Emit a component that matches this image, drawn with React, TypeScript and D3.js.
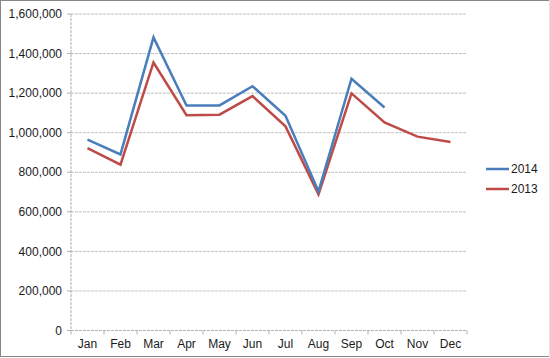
import React from "react";
import * as d3 from "d3";

const months = ["Jan", "Feb", "Mar", "Apr", "May", "Jun", "Jul", "Aug", "Sep", "Oct", "Nov", "Dec"];
const values2014: (number | null)[] = [965000, 890000, 1482000, 1137000, 1138000, 1235000, 1085000, 703000, 1273000, 1127000, null, null];
const values2013: (number | null)[] = [922000, 838000, 1355000, 1088000, 1091000, 1185000, 1032000, 688000, 1199000, 1052000, 980000, 953000];
const yTicks = [0, 200000, 400000, 600000, 800000, 1000000, 1200000, 1400000, 1600000];
const seriesNames = ["2014", "2013"];
const seriesColors = ["#4a7ebb", "#be4b48"];

const W = 550, H = 358;
const left = 71, right = 467, top = 14, bottom = 330.5;

export default function App() {
  const x = d3.scaleBand<string>().domain(months).range([left, right]);
  const y = d3.scaleLinear().domain([0, 1600000]).range([bottom, top]);
  const fmt = d3.format(",");
  const line = d3
    .line<number | null>()
    .defined((d) => d != null)
    .x((_, i) => (x(months[i]) as number) + x.bandwidth() / 2)
    .y((d) => y(d as number));
  const series = [values2014, values2013];
  const font = "'Liberation Sans', Arial, sans-serif";
  return (
    <svg width={W} height={H} style={{ position: "absolute", left: 0, top: 0, background: "#fff" }} fontFamily={font}>
      <rect x={0} y={0} width={W} height={H} fill="#fff" />
      <line x1={0} x2={W} y1={0.5} y2={0.5} stroke="#868686" />
      <line x1={0.5} x2={0.5} y1={0} y2={357} stroke="#868686" />
      <line x1={0} x2={W} y1={356.5} y2={356.5} stroke="#868686" />
      <line x1={549.5} x2={549.5} y1={0} y2={357} stroke="#e4e4e4" />
      {yTicks.map((t) => (
        <g key={t}>
          {t > 0 && (
            <line x1={left} x2={right} y1={y(t)} y2={y(t)} stroke="#c0c0c0" strokeWidth={1} strokeDasharray="3,1" />
          )}
          <line x1={left - 4} x2={left} y1={y(t)} y2={y(t)} stroke="#b0b0b0" />
          <text x={62} y={y(t)} dy="0.35em" textAnchor="end" fontSize={12} fill="#1a1a1a">
            {fmt(t)}
          </text>
        </g>
      ))}
      <line x1={left} x2={left} y1={top} y2={bottom} stroke="#b0b0b0" strokeDasharray="3,1" />
      <line x1={left} x2={right} y1={bottom} y2={bottom} stroke="#b0b0b0" strokeDasharray="3,1" />
      {months.map((m, i) => (
        <g key={m}>
          <line x1={(x(m) as number) + x.bandwidth()} x2={(x(m) as number) + x.bandwidth()} y1={bottom} y2={bottom + 4} stroke="#b0b0b0" />
          {i === 0 && <line x1={left} x2={left} y1={bottom} y2={bottom + 4} stroke="#b0b0b0" />}
          <text x={(x(m) as number) + x.bandwidth() / 2} y={344} dy="0.35em" textAnchor="middle" fontSize={12} fill="#1a1a1a">
            {m}
          </text>
        </g>
      ))}
      {series.map((s, i) => (
        <path key={i} d={line(s) || ""} fill="none" stroke={seriesColors[i]} strokeWidth={2.5} strokeLinejoin="miter" />
      )).reverse()}
      {seriesNames.map((n, i) => (
        <g key={n}>
          <line x1={486} x2={509} y1={169 + i * 20} y2={169 + i * 20} stroke={seriesColors[i]} strokeWidth={2.5} />
          <text x={511} y={169 + i * 20} dy="0.35em" fontSize={12} fill="#1a1a1a">
            {n}
          </text>
        </g>
      ))}
    </svg>
  );
}
